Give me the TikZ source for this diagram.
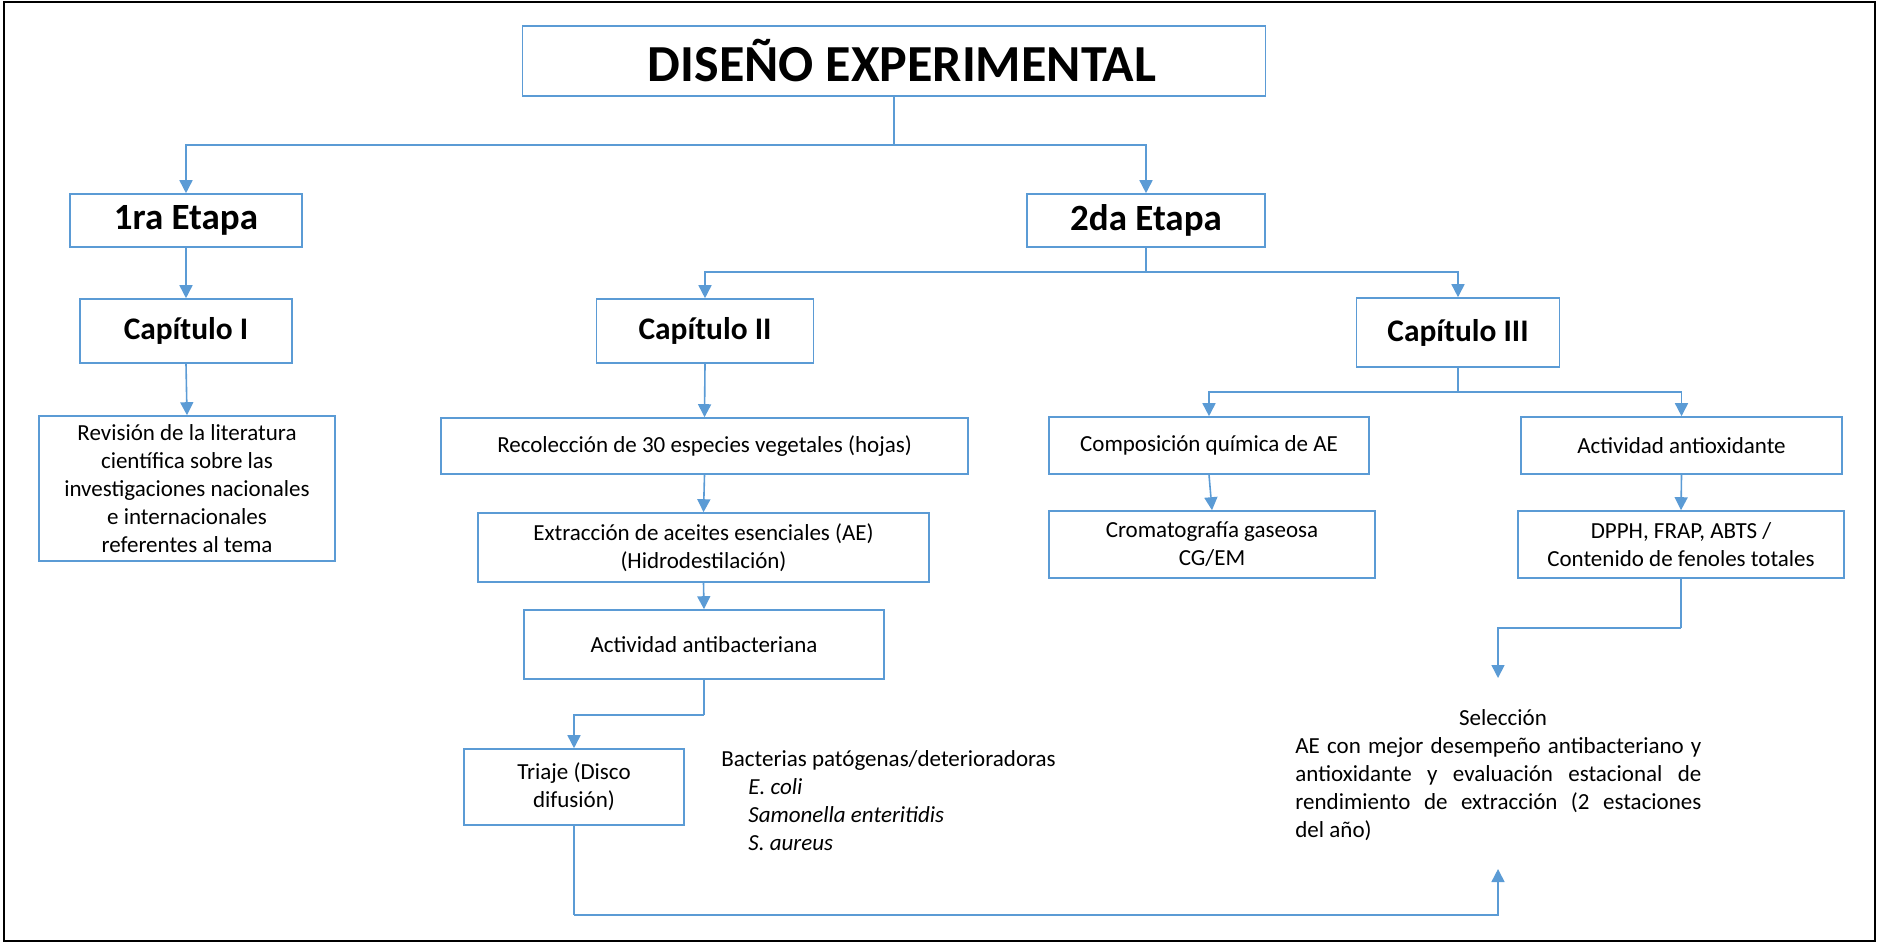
\documentclass[tikz,border=0pt]{standalone}
\usepackage{fontspec}
\setmainfont{Carlito}
\usetikzlibrary{arrows.meta}
\definecolor{lineblue}{RGB}{91,155,213}
\begin{document}
\begin{tikzpicture}[x=0.5pt,y=-0.5pt,
  box/.style={draw=lineblue,line width=0.8pt,inner sep=0pt,align=center,
    font=\fontsize{11.5}{14}\selectfont},
  bigbox/.style={box,font=\fontsize{18.5}{22}\selectfont\bfseries},
  capbox/.style={box,font=\fontsize{15.7}{19}\selectfont\bfseries},
  conn/.style={draw=lineblue,line width=0.8pt},
  arr/.style={conn,-{Triangle[length=6.5pt,width=6.5pt]}},
  txt/.style={inner sep=0pt,font=\fontsize{11.5}{14}\selectfont}]
\useasboundingbox (0,0) rectangle (1878,943);
\draw[black,line width=1pt] (4,2) rectangle (1875,941);

% boxes
\node[box,minimum width=371.5pt,minimum height=35pt,
  font=\fontsize{26}{30}\selectfont\bfseries] (title) at (894,61) {\hspace*{8pt}DISEÑO EXPERIMENTAL};
\node[bigbox,minimum width=116pt,minimum height=26.5pt] (e1) at (186,220.5) {1ra Etapa};
\node[bigbox,minimum width=119pt,minimum height=26.5pt] (e2) at (1146,220.5) {2da Etapa};
\node[capbox,minimum width=106pt,minimum height=32pt] (c1) at (186,331) {Capítulo I};
\node[capbox,minimum width=108.5pt,minimum height=32pt] (c2) at (705,331) {Capítulo II};
\node[capbox,minimum width=101.5pt,minimum height=34.5pt] (c3) at (1458,332.5) {Capítulo III};
\node[box,minimum width=148pt,minimum height=72.5pt] (rev) at (187,488.5)
  {Revisión de la literatura\\científica sobre las\\investigaciones nacionales\\e internacionales\\referentes al tema};
\node[box,minimum width=263.5pt,minimum height=28pt] (rec) at (704.5,446)
  {Recolección de 30 especies vegetales (hojas)};
\node[box,minimum width=225.5pt,minimum height=34.5pt] (ext) at (703.5,547.5)
  {Extracción de aceites esenciales (AE)\\(Hidrodestilación)};
\node[box,minimum width=180pt,minimum height=34.5pt] (ab) at (704,644.5)
  {Actividad antibacteriana};
\node[box,minimum width=110pt,minimum height=38pt] (tri) at (574,787)
  {Triaje (Disco\\difusión)};
\node[box,minimum width=160pt,minimum height=28.5pt] (comp) at (1209,445.5)
  {Composición química de AE};
\node[box,minimum width=160.5pt,minimum height=28.5pt] (aox) at (1681.5,445.5)
  {Actividad antioxidante};
\node[box,minimum width=163pt,minimum height=33.5pt] (crom) at (1212,544.5)
  {Cromatografía gaseosa\\CG/EM};
\node[box,minimum width=163pt,minimum height=33.5pt] (dpph) at (1681,544.5)
  {DPPH, FRAP, ABTS /\\Contenido de fenoles totales};

% free texts
\node[txt,anchor=base west] (bac) at (721,766) {Bacterias patógenas/deterioradoras};
\node[txt,anchor=base west] (bac1) at (748,794) {\itshape E. coli};
\node[txt,anchor=base west] (bac2) at (748,822) {\itshape Samonella enteritidis};
\node[txt,anchor=base west] (bac3) at (748,850) {\itshape S. aureus};

\node[txt,anchor=base] (sel) at (1503,725) {Selección};
\node[txt,anchor=base west] (sel1) at (1295,753) {\makebox[203pt][s]{AE con mejor desempeño antibacteriano y}};
\node[txt,anchor=base west] (sel2) at (1295,781) {\makebox[203pt][s]{antioxidante y evaluación estacional de}};
\node[txt,anchor=base west] (sel3) at (1295,809) {\makebox[203pt][s]{rendimiento de extracción (2 estaciones}};
\node[txt,anchor=base west] (sel4) at (1295,837) {del año)};

% junctions
\coordinate (j1) at (894,145);
\coordinate (j2) at (1146,272);
\coordinate (j3) at (704,715);
\coordinate (j4) at (1458,392);
\coordinate (j5) at (1681,628);
\coordinate (j6) at (574,915);
\coordinate (seltop) at (1498,678);
\coordinate (selbot) at (1498,869);

% connectors
\draw[conn] (title.south) -- (j1);
\draw[arr] (j1) -| (e1.north);
\draw[arr] (j1) -| (e2.north);
\draw[arr] (e1.south) -- (c1.north);
\draw[conn] (e2.south) -- (j2);
\draw[arr] (j2) -| (c2.north);
\draw[arr] (j2) -| (c3.north);
\draw[arr] (c1.south) -- (rev.north);
\draw[arr] (c2.south) -- (rec.north);
\draw[arr] (rec.south) -- (ext.north);
\draw[arr] (ext.south) -- (ab.north);
\draw[conn] (ab.south) -- (j3);
\draw[arr] (j3) -| (tri.north);
\draw[conn] (c3.south) -- (j4);
\draw[arr] (j4) -| (comp.north);
\draw[arr] (j4) -| (aox.north);
\draw[arr] (comp.south) -- (crom.north);
\draw[arr] (aox.south) -- (dpph.north);
\draw[conn] (dpph.south) -- (j5);
\draw[arr] (j5) -| (seltop);
\draw[conn] (tri.south) -- (j6);
\draw[arr] (j6) -| (selbot);
\end{tikzpicture}
\end{document}
